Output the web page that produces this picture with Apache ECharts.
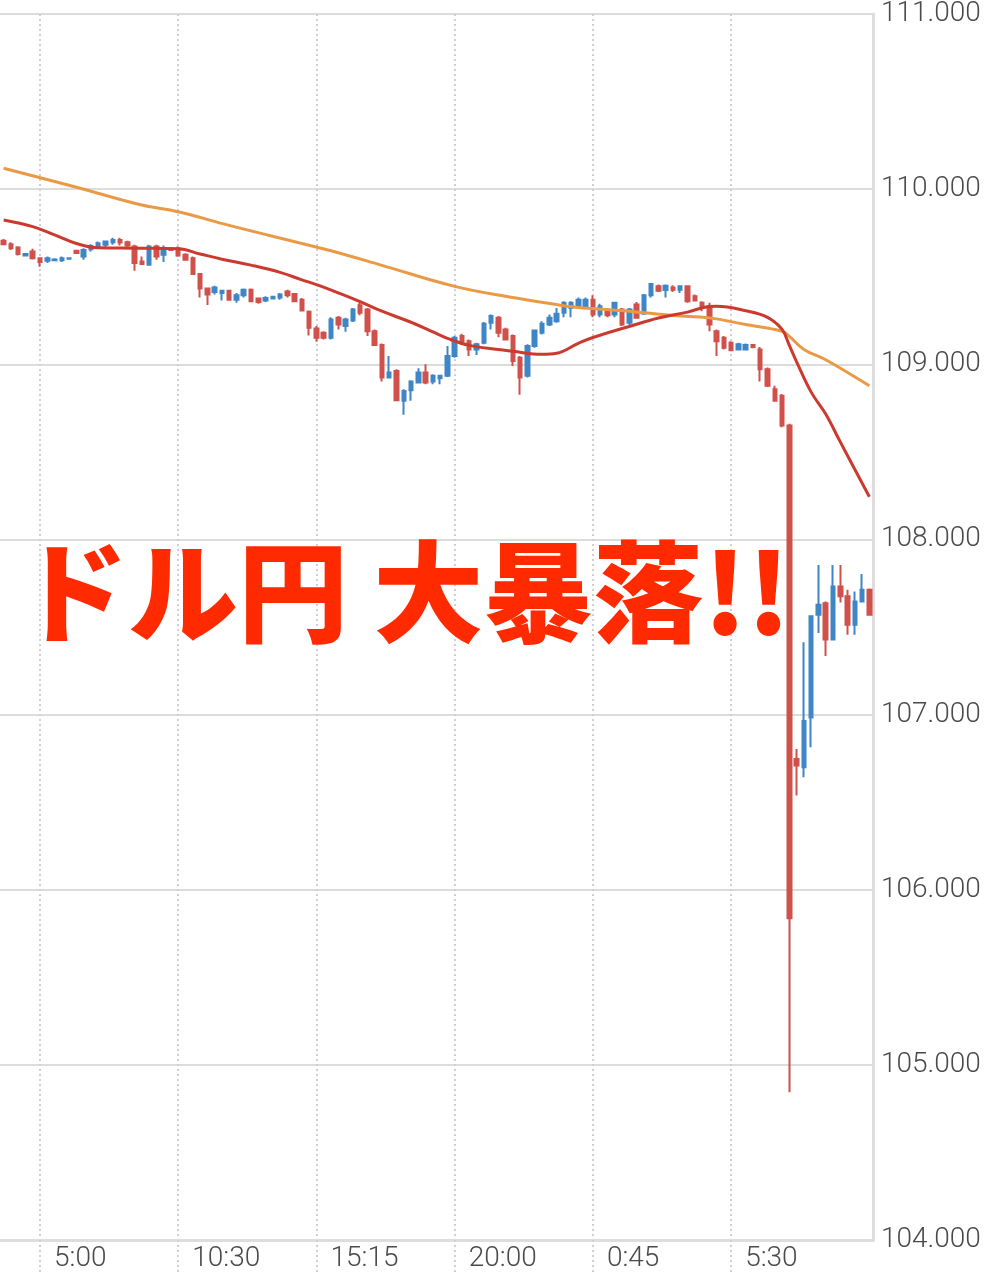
<!DOCTYPE html>
<html>
<head>
<meta charset="utf-8">
<script src="https://cdn.jsdelivr.net/npm/echarts@6.0.0/dist/echarts.min.js"></script>
<style>
html,body{margin:0;padding:0;background:#fff;}
#chart{width:999px;height:1280px;}
</style>
</head>
<body>
<div id="chart"></div>
<script>
const categories = [
'3:45','4:00','4:15','4:30','4:45','5:00','5:15','5:30','5:45',
'6:45','7:00','7:15','7:30','7:45','8:00','8:15','8:30','8:45','9:00','9:15','9:30','9:45','10:00','10:15',
'10:30','10:45','11:00','11:15','11:30','11:45','12:00','12:15','12:30','12:45','13:00','13:15','13:30','13:45','14:00','14:15','14:30','14:45','15:00',
'15:15','15:30','15:45','16:00','16:15','16:30','16:45','17:00','17:15','17:30','17:45','18:00','18:15','18:30','18:45','19:00','19:15','19:30','19:45',
'20:00','20:15','20:30','20:45','21:00','21:15','21:30','21:45','22:00','22:15','22:30','22:45','23:00','23:15','23:30','23:45','0:00','0:15','0:30',
'0:45','1:00','1:15','1:30','1:45','2:00','2:15','2:30','2:45','3:00','3:15','3:30','3:45','4:00','4:15','4:30','4:45','5:00','5:15',
'5:30','5:45','6:00','6:15','6:30','6:45','7:00','7:15','7:30','7:45','8:00','8:15','8:30','8:45','9:00','9:15','9:30','9:45','10:00','10:15'
];
const tickLabels = ['5:00','10:30','15:15','20:00','0:45','5:30'];
const yTicks = [104, 105, 106, 107, 108, 109, 110, 111];

const openValues = [
109.705,109.686,109.667,109.621,109.644,109.606,109.591,109.594,109.594,109.602,
109.648,109.615,109.657,109.669,109.682,109.697,109.710,109.697,109.672,109.587,
109.568,109.672,109.625,109.663,109.663,109.625,109.606,109.515,109.432,109.413,
109.407,109.420,109.369,109.394,109.426,109.375,109.364,109.375,109.382,109.416,
109.402,109.369,109.300,109.205,109.180,109.152,109.265,109.218,109.250,109.337,
109.313,109.189,109.110,108.924,108.962,108.792,108.852,108.896,108.953,108.902,
108.920,108.934,109.047,109.161,109.132,109.085,109.123,109.237,109.265,109.199,
109.161,109.038,108.934,109.104,109.180,109.227,109.246,109.294,109.322,109.331,
109.331,109.369,109.284,109.307,109.284,109.313,109.237,109.341,109.288,109.394,
109.445,109.424,109.439,109.426,109.445,109.388,109.351,109.331,109.189,109.152,
109.123,109.085,109.085,109.110,109.085,108.972,108.858,108.820,108.650,106.746,
106.699,106.983,107.570,107.636,107.428,107.731,107.675,107.513,107.646,107.713
];
const closeValues = [
109.686,109.663,109.629,109.629,109.606,109.584,109.606,109.598,109.606,109.606,
109.636,109.653,109.676,109.691,109.701,109.710,109.695,109.678,109.578,109.572,
109.672,109.615,109.663,109.652,109.621,109.597,109.515,109.432,109.398,109.439,
109.420,109.368,109.394,109.426,109.360,109.356,109.379,109.386,109.398,109.394,
109.360,109.307,109.209,109.152,109.152,109.256,109.227,109.256,109.313,109.294,
109.189,109.110,108.924,108.953,108.795,108.848,108.902,108.953,108.896,108.934,
108.934,109.047,109.152,109.132,109.085,109.114,109.231,109.275,109.180,109.142,
109.019,108.924,109.104,109.193,109.231,109.265,109.288,109.351,109.351,109.369,
109.369,109.284,109.331,109.280,109.351,109.227,109.313,109.265,109.394,109.459,
109.420,109.449,109.426,109.445,109.360,109.364,109.322,109.227,109.132,109.095,
109.080,109.114,109.110,109.098,108.972,108.877,108.792,108.650,105.837,106.709,
106.964,107.561,107.627,107.428,107.731,107.675,107.513,107.646,107.713,107.570
];
const lowValues = [
109.682,109.652,109.621,109.615,109.598,109.557,109.578,109.591,109.584,109.600,
109.630,109.597,109.644,109.663,109.663,109.682,109.678,109.659,109.534,109.568,
109.564,109.597,109.584,109.648,109.614,109.591,109.511,109.382,109.338,109.398,
109.364,109.364,109.351,109.382,109.356,109.345,109.356,109.371,109.369,109.382,
109.356,109.303,109.165,109.129,109.142,109.142,109.199,109.186,109.242,109.280,
109.161,109.104,108.902,108.920,108.792,108.712,108.792,108.890,108.886,108.886,
108.886,108.928,109.038,109.110,109.047,109.053,109.114,109.199,109.155,109.136,
108.990,108.826,108.924,109.095,109.170,109.218,109.237,109.269,109.269,109.322,
109.318,109.269,109.269,109.269,109.269,109.218,109.218,109.261,109.284,109.382,
109.413,109.382,109.413,109.407,109.351,109.360,109.303,109.189,109.047,109.085,
109.076,109.080,109.080,109.091,108.902,108.871,108.788,108.640,104.843,106.538,
106.642,106.813,107.466,107.334,107.423,107.640,107.456,107.456,107.640,107.565
];
const highValues = [
109.716,109.697,109.674,109.635,109.659,109.610,109.615,109.606,109.615,109.609,
109.653,109.663,109.686,109.701,109.705,109.723,109.723,109.705,109.682,109.615,
109.682,109.682,109.678,109.668,109.672,109.634,109.615,109.520,109.436,109.449,
109.426,109.426,109.407,109.432,109.432,109.379,109.388,109.390,109.407,109.426,
109.407,109.379,109.307,109.218,109.189,109.269,109.275,109.265,109.322,109.351,
109.322,109.199,109.118,109.047,108.972,108.858,108.909,108.977,109.000,108.943,
108.940,109.104,109.161,109.175,109.142,109.123,109.242,109.284,109.275,109.209,
109.170,109.047,109.114,109.199,109.246,109.284,109.322,109.360,109.360,109.382,
109.382,109.394,109.345,109.322,109.356,109.322,109.322,109.356,109.402,109.464,
109.455,109.455,109.451,109.451,109.451,109.398,109.360,109.351,109.199,109.161,
109.132,109.123,109.118,109.114,109.098,108.981,108.877,108.830,108.660,106.803,
107.413,107.565,107.854,107.646,107.854,107.854,107.713,107.703,107.803,107.720
];

// Moving averages: [candle index, value]
const maShort = [
[0,109.824],[4,109.786],[7,109.739],[10,109.690],[13,109.665],[18,109.663],[24,109.660],
[27,109.630],[30,109.600],[34,109.566],[38,109.525],[41,109.482],[43,109.455],[46,109.408],
[49,109.358],[52,109.303],[56,109.240],[59,109.185],[61,109.148],[64,109.108],[68,109.085],
[70,109.074],[74,109.057],[76,109.063],[79,109.120],[81,109.153],[86,109.216],[90,109.264],
[94,109.298],[97,109.330],[98,109.331],[102,109.306],[105,109.268],[107,109.199],[108,109.108],
[109,109.014],[111,108.841],[113,108.716],[115,108.557],[119,108.244]
];
const maLong = [
[0,110.119],[10,110.011],[19,109.909],[24,109.871],[31,109.793],[41,109.690],[45,109.648],
[52,109.565],[62,109.445],[70,109.381],[76,109.341],[79,109.324],[81,109.318],[86,109.303],
[92,109.278],[97,109.265],[102,109.227],[107,109.189],[108,109.159],[110,109.085],[113,109.026],
[119,108.877]
];

const candleData = openValues.map((o, i) => [o, closeValues[i], lowValues[i], highValues[i]]);

const tickIndex = [];
let from = 0;
tickLabels.forEach(lbl => {
  const idx = categories.indexOf(lbl, from);
  tickIndex.push(idx);
  from = idx + 1;
});
const tickFn = (idx) => tickIndex.indexOf(idx) >= 0;

const chart = echarts.init(document.getElementById('chart'), null, {renderer: 'canvas'});
chart.setOption({
  animation: false,
  backgroundColor: '#ffffff',
  grid: {left: 0, right: 126, top: 8, bottom: 40, containLabel: false},
  xAxis: {
    type: 'category',
    data: categories,
    boundaryGap: true,
    axisLine: {show: true, lineStyle: {color: '#dddddd', width: 3}},
    axisTick: {show: true, alignWithLabel: true, interval: tickFn, length: 32,
      lineStyle: {color: '#d0d0d0', width: 2, type: [2, 3]}},
    axisLabel: {interval: tickFn, align: 'left', verticalAlign: 'top', padding: [0, 0, 0, 14], margin: 5,
      fontSize: 28, color: '#4a4a4a', fontFamily: 'Roboto', fontWeight: 300},
    splitLine: {show: true, alignWithLabel: true, interval: tickFn,
      lineStyle: {color: '#d0d0d0', width: 2, type: [2, 3]}}
  },
  yAxis: {
    type: 'value',
    position: 'right',
    min: yTicks[0],
    max: yTicks[yTicks.length - 1],
    interval: 1,
    axisLine: {show: true, lineStyle: {color: '#dddddd', width: 3}},
    axisTick: {show: false},
    axisLabel: {formatter: v => v.toFixed(3), fontSize: 28, color: '#4a4a4a', margin: 8,
      padding: [8, 0, 0, 0], fontFamily: 'Roboto', fontWeight: 300},
    splitLine: {show: true, lineStyle: {color: '#dcdcdc', width: 2}}
  },
  series: [
    {
      type: 'candlestick',
      data: candleData,
      barWidth: 4,
      itemStyle: {
        color: '#3e86c6', color0: '#d0504b',
        borderColor: '#3e86c6', borderColor0: '#d0504b', borderWidth: 2
      }
    },
    {
      type: 'line', data: maLong, symbol: 'none', smooth: 0.4, connectNulls: true,
      lineStyle: {color: '#ea9a45', width: 3}, z: 3
    },
    {
      type: 'line', data: maShort, symbol: 'none', smooth: 0.4, connectNulls: true,
      lineStyle: {color: '#cc3a2f', width: 3}, z: 4
    }
  ],
  graphic: [{
    type: 'text', left: 18, top: 537, z: 100,
    style: {text: 'ドル円 大暴落!!', fontSize: 110, fontWeight: 900,
      fontFamily: '"Noto Sans CJK JP"', fill: '#ff2a00'}
  }]
});
</script>
</body>
</html>
